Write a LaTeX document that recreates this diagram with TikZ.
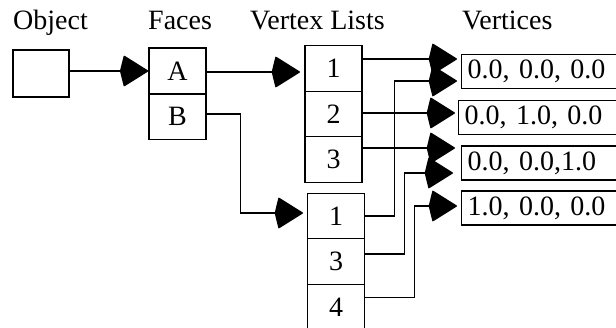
\documentclass[tikz,border=0pt]{standalone}
\usepackage{fontspec}
\setmainfont{Liberation Serif}
\usetikzlibrary{arrows.meta}
\begin{document}
\begin{tikzpicture}[x=1pt,y=-1pt,
  every node/.style={font=\fontsize{28}{34}\selectfont},
  cell/.style={draw, line width=1.4pt, minimum width=57pt, minimum height=45.5pt, inner sep=0pt},
  vbox/.style={draw, line width=1.4pt, anchor=west, text width=180pt, align=left,
               inner xsep=6pt, inner ysep=0pt, minimum height=34pt},
  head/.style={anchor=base west, inner sep=0pt},
  link/.style={line width=1.4pt, -{Stealth[length=25pt,width=31pt,inset=-4pt,round]}},
]
\useasboundingbox (0,0) rectangle (616,327);

% column headings
\node[head] (h1) at (13,29) {Object};
\node[head] (h2) at (148,29) {Faces};
\node[head] (h3) at (250,29) {Vertex Lists};
\node[head] (h4) at (462,29) {Vertices};

% object and its faces
\node[cell, minimum width=56pt, minimum height=47pt] (obj) at (41,73.5) {};
\node[cell, minimum height=46pt] (fa) at (177.5,71) {A};
\node[cell] (fb) at (177.5,116.5) {B};

% vertex list of face A
\node[cell] (l11) at (333.5,68.5) {1};
\node[cell] (l12) at (333.5,114) {2};
\node[cell] (l13) at (333.5,159.5) {3};

% vertex list of face B
\node[cell] (l21) at (336,216) {1};
\node[cell] (l23) at (336,261.5) {3};
\node[cell] (l24) at (336,307) {4};

% vertex table
\node[vbox] (v1) at (461,71.5) {0.0, 0.0, 0.0};
\node[vbox] (v2) at (458,117.5) {0.0, 1.0, 0.0};
\node[vbox] (v3) at (461,163) {0.0, 0.0,1.0};
\node[vbox] (v4) at (461,208) {1.0, 0.0, 0.0};

% arrow tip positions
\coordinate (ta) at (300,72);
\coordinate (tb) at (303,213);
\coordinate (t1) at (457,59);
\coordinate (t2) at (457,81);
\coordinate (t3) at (455,113);
\coordinate (t4) at (455,148);
\coordinate (t5) at (453,173);
\coordinate (t6) at (457,206);

% pointers
\draw[link] (obj.east |- fa.west) -- (fa.west);
\draw[link] (fa.east |- ta) -- (ta);
\draw[link] ([yshift=2.5pt]fb.east) -- ++(34,0) |- (tb);

\draw[link] (l11.east |- t1) -- (t1);
\draw[link] (l12.east |- t3) -- (t3);
\draw[link] (l13.east |- t4) -- (t4);

\draw[link] (l21.east) -- ++(29,0) |- (t2);
\draw[link] ([yshift=7.5pt]l23.east) -- ++(39,0) |- (t5);
\draw[link] ([yshift=9.5pt]l24.east) -- ++(49,0) |- (t6);
\end{tikzpicture}
\end{document}
